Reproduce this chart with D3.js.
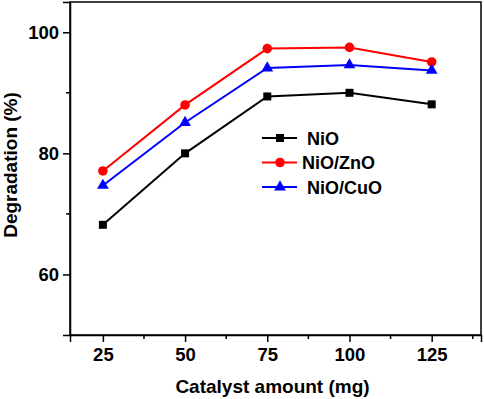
<!DOCTYPE html>
<html>
<head>
<meta charset="utf-8">
<script src="https://cdn.jsdelivr.net/npm/d3@7"></script>
<style>
  body { margin: 0; background: #fff; }
  text { font-family: "Liberation Sans", Arial, sans-serif; font-weight: bold; }
</style>
</head>
<body>
<div class="vis-linechart"></div>
<script>
const amounts = [25, 50, 75, 100, 125];
const nio = [68.2, 80.0, 89.4, 90.0, 88.1];
const nioZnO = [77.1, 88.0, 97.3, 97.5, 95.1];
const nioCuO = [74.7, 85.1, 94.1, 94.6, 93.7];
const seriesNames = ["NiO", "NiO/ZnO", "NiO/CuO"];
const xTicks = [25, 50, 75, 100, 125];
const yTicks = [60, 80, 100];

const width = 484, height = 399;
const margin = { top: 2, right: 3, bottom: 64, left: 70 };

const svg = d3.select('.vis-linechart').append("svg")
    .attr("width", width)
    .attr("height", height);

const x = d3.scaleLinear().domain([15, 140]).range([margin.left, width - margin.right]);
const y = d3.scaleLinear().domain([50, 105]).range([height - margin.bottom, margin.top]);

const series = [
    { name: seriesNames[0], values: nio, color: "#000000", shape: d3.symbolSquare, size: 64 },
    { name: seriesNames[1], values: nioZnO, color: "#ff0000", shape: d3.symbolCircle, size: 72 },
    { name: seriesNames[2], values: nioCuO, color: "#0000ff", shape: d3.symbolTriangle, size: 60 }
];

// frame
svg.append("rect")
    .attr("x", x(15)).attr("y", y(105))
    .attr("width", x(140) - x(15)).attr("height", y(50) - y(105))
    .attr("fill", "none").attr("stroke", "#000").attr("stroke-width", 1.5);

// x axis
const xAxis = svg.append("g")
    .attr("transform", "translate(0," + y(50) + ")")
    .call(d3.axisBottom(x).tickValues(xTicks).tickSize(7).tickPadding(6));
xAxis.append("g").selectAll("line")
    .data(d3.range(37.5, 140, 25))
    .join("line")
    .attr("x1", d => x(d)).attr("x2", d => x(d))
    .attr("y1", 0).attr("y2", 4)
    .attr("stroke", "#000").attr("stroke-width", 1.5);

// y axis
const yAxis = svg.append("g")
    .attr("transform", "translate(" + x(15) + ",0)")
    .call(d3.axisLeft(y).tickValues(yTicks).tickSize(7).tickPadding(4));
yAxis.append("g").selectAll("line")
    .data([70, 90])
    .join("line")
    .attr("y1", d => y(d)).attr("y2", d => y(d))
    .attr("x1", 0).attr("x2", -4)
    .attr("stroke", "#000").attr("stroke-width", 1.5);

svg.selectAll(".domain").attr("stroke-width", 1.5);
svg.selectAll(".tick line").attr("stroke-width", 1.5);
svg.selectAll(".tick text").attr("font-size", 18.5).attr("fill", "#000")
    .style("font-family", '"Liberation Sans", Arial, sans-serif').style("font-weight", "bold");

// axis titles
svg.append("text")
    .attr("x", (x(15) + x(140)) / 2 - 3)
    .attr("y", 393)
    .attr("text-anchor", "middle")
    .attr("font-size", 19)
    .text("Catalyst amount (mg)");

svg.append("text")
    .attr("transform", "translate(17," + 165 + ") rotate(-90)")
    .attr("text-anchor", "middle")
    .attr("font-size", 19)
    .text("Degradation (%)");

// lines + markers
const line = d3.line()
    .x((d, i) => x(amounts[i]))
    .y(d => y(d));

series.forEach(s => {
    svg.append("path")
        .datum(s.values)
        .attr("d", line)
        .attr("fill", "none")
        .attr("stroke", s.color)
        .attr("stroke-width", 2);
    svg.append("g").selectAll("path")
        .data(s.values)
        .join("path")
        .attr("transform", (d, i) => "translate(" + x(amounts[i]) + "," + y(d) + ")")
        .attr("d", d3.symbol().type(s.shape).size(s.size))
        .attr("fill", s.color);
});

// legend
const legendDx = [5, 0, 5];
const legend = svg.append("g").attr("transform", "translate(262,138)");
series.forEach((s, i) => {
    const g = legend.append("g").attr("transform", "translate(0," + i * 24.5 + ")");
    g.append("line").attr("x1", 0).attr("x2", 35).attr("y1", 0).attr("y2", 0)
        .attr("stroke", s.color).attr("stroke-width", 2);
    g.append("path").attr("transform", "translate(18,0)")
        .attr("d", d3.symbol().type(s.shape).size(s.size))
        .attr("fill", s.color);
    g.append("text")
        .attr("x", 40 + legendDx[i])
        .attr("y", 6.5)
        .attr("font-size", 18)
        .text(s.name);
});
</script>
</body>
</html>
